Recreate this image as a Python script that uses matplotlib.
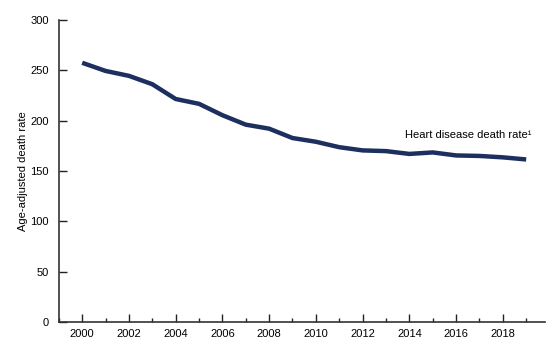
import matplotlib
matplotlib.use("Agg")
import matplotlib.pyplot as plt
from matplotlib.ticker import MultipleLocator

plt.rcParams['font.family'] = ['Liberation Sans', 'DejaVu Sans']

years = list(range(2000, 2020))
rates = [257.6, 249.5, 244.6, 236.3, 221.6, 216.8, 205.5, 196.1, 192.1, 182.8,
         179.1, 173.7, 170.5, 169.8, 167.0, 168.5, 165.5, 165.0, 163.6, 161.5]
xticks = list(range(2000, 2020, 2))
yticks = [0, 50, 100, 150, 200, 250, 300]

fig = plt.figure(figsize=(5.6, 3.53), dpi=100)
ax = fig.add_axes([0.105, 0.088, 0.868, 0.855])
ax.plot(years, rates, color='#1c2f5e', lw=3.2, solid_capstyle='butt')

ax.set_xlim(1999.0, 2019.8)
ax.set_ylim(0, 300)
ax.set_xticks(xticks)
ax.xaxis.set_minor_locator(MultipleLocator(1))
ax.set_yticks(yticks)
ax.tick_params(axis='both', which='major', direction='in', length=6, width=1, labelsize=8, color='#222222')
ax.tick_params(axis='x', which='minor', direction='in', length=3, width=1, color='#222222')
ax.tick_params(axis='x', pad=5)
ax.tick_params(axis='y', pad=7)
for s in ['top', 'right']:
    ax.spines[s].set_visible(False)
for s in ['left', 'bottom']:
    ax.spines[s].set_linewidth(1.2)
    ax.spines[s].set_color('#333333')

ax.set_ylabel('Age-adjusted death rate', fontsize=8, labelpad=2)
ax.text(2016.5, 186, 'Heart disease death rate\u00b9', fontsize=8, ha='center', va='center')

fig.savefig('out.png', dpi=100)
